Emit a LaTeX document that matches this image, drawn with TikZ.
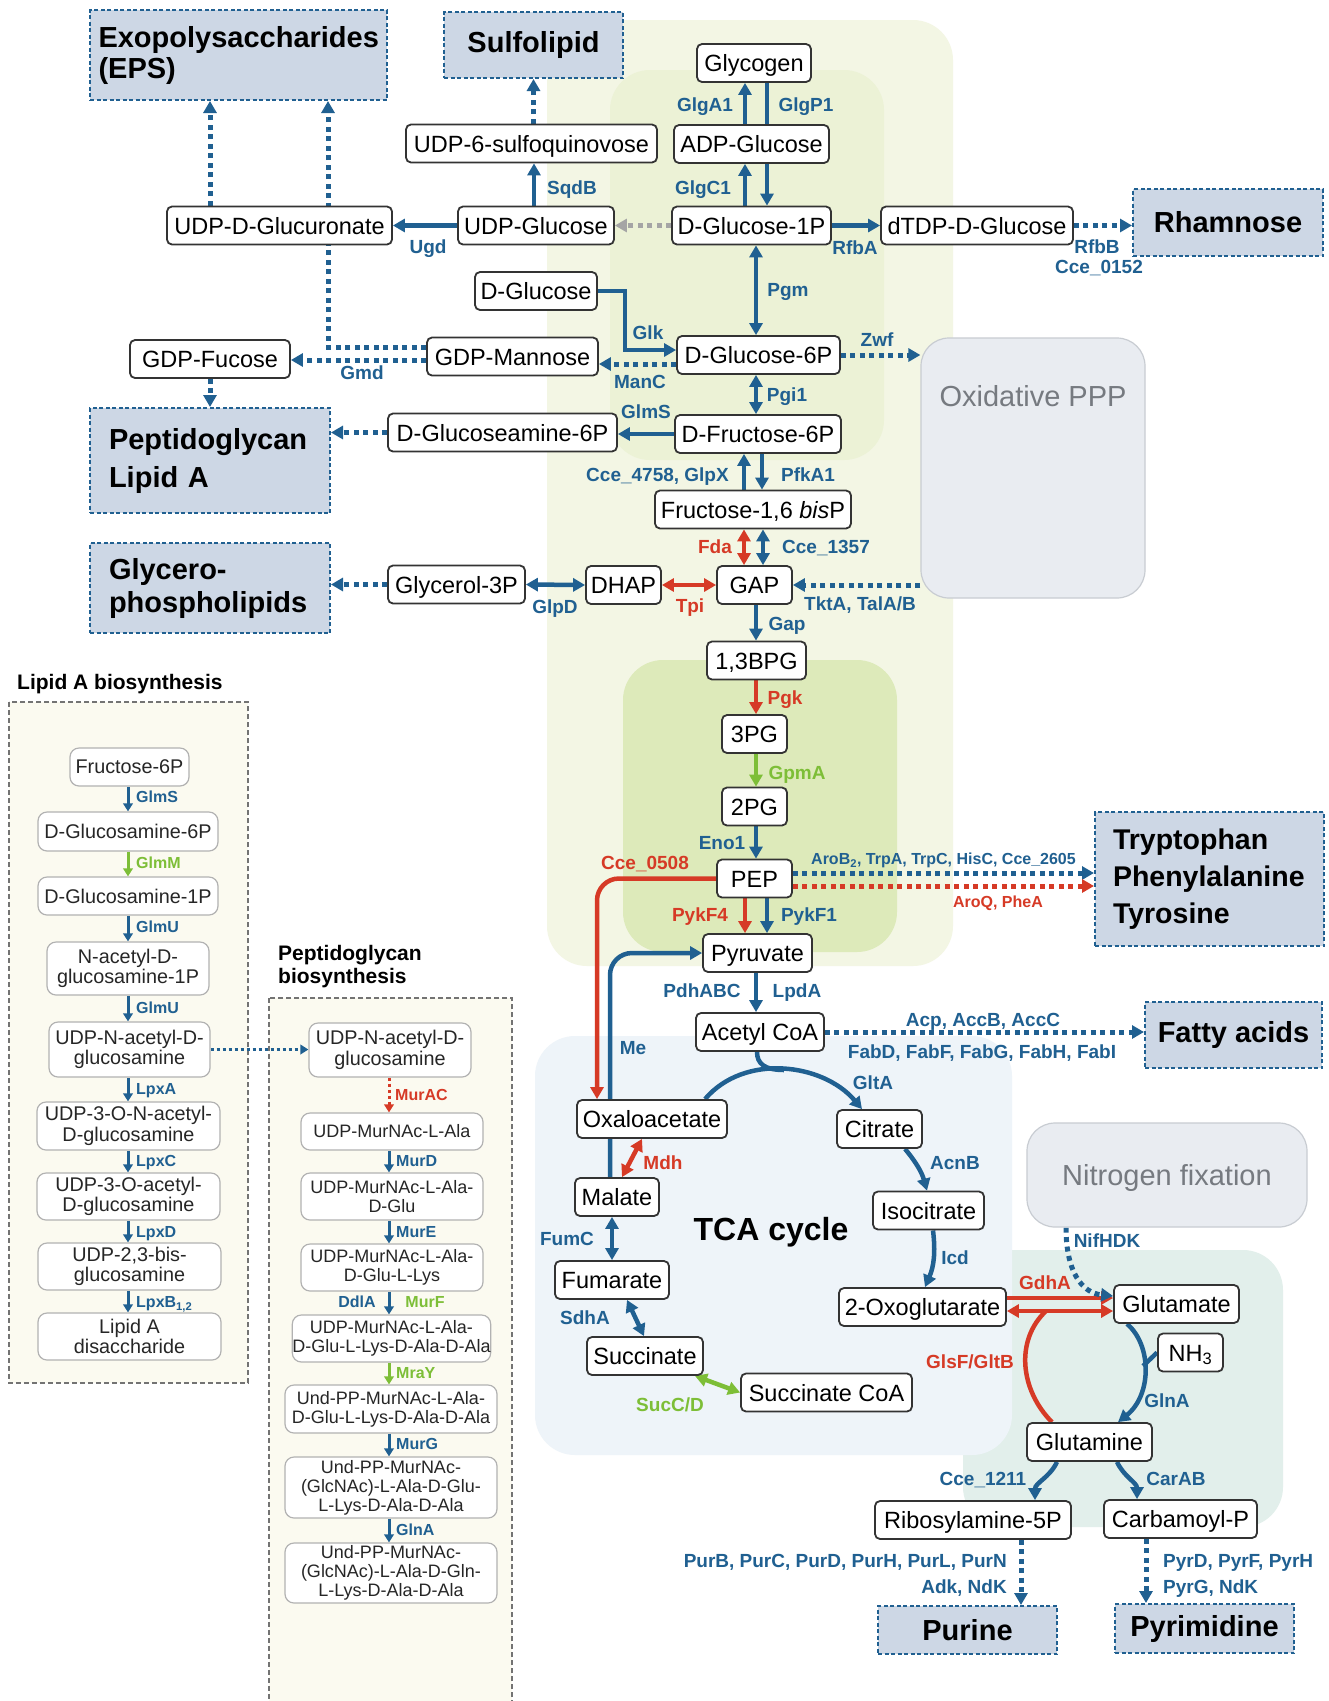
\documentclass[tikz,border=0pt]{standalone}
\usepackage{fontspec}
\setmainfont{Liberation Sans}
\usetikzlibrary{arrows.meta}
\hyphenpenalty=10000
\exhyphenpenalty=10000
\definecolor{cblue}{RGB}{32,96,145}
\definecolor{cred}{RGB}{214,58,38}
\definecolor{cgreen}{RGB}{125,190,55}
\definecolor{cgrey}{RGB}{165,165,165}
\definecolor{boxfill}{RGB}{205,215,229}
\definecolor{bgA}{RGB}{243,246,228}
\definecolor{bgB}{RGB}{236,242,214}
\definecolor{bgC}{RGB}{221,234,186}
\definecolor{bgTCA}{RGB}{238,244,249}
\definecolor{bgN}{RGB}{226,239,235}
\definecolor{pppfill}{RGB}{233,236,241}
\definecolor{pppdraw}{RGB}{200,204,210}
\definecolor{ppptext}{RGB}{118,122,128}
\definecolor{cream}{RGB}{251,250,240}
\pgfdeclarelayer{bg}
\pgfdeclarelayer{edges}
\pgfsetlayers{bg,edges,main}
\begin{document}
\begin{tikzpicture}[x=1pt,y=-1pt,
  met/.style={draw=black!80, line width=1.8pt, rounded corners=5pt, fill=white, inner sep=0pt, minimum height=38pt, text height=17pt, text depth=0pt, font=\fontsize{23.5}{27}\selectfont},
  hb/.style={draw=cblue, line width=2pt, dash pattern=on 4pt off 2.5pt, fill=boxfill, inner sep=0pt, font=\fontsize{29}{33}\selectfont\bfseries},
  grp/.style={draw=pppdraw, line width=1.2pt, fill=pppfill, rounded corners=28pt, inner sep=0pt, text=ppptext, font=\fontsize{29}{33}\selectfont},
  lm/.style={draw=black!30, line width=1.2pt, rounded corners=9pt, fill=white, inner sep=0pt, align=center, text=black!85, font=\fontsize{19.8}{20.5}\selectfont},
  pm/.style={lm, font=\fontsize{18}{19}\selectfont},
  lab/.style={inner sep=0pt, text height=13.6pt, text depth=0pt, text=cblue, font=\fontsize{19}{21}\selectfont\bfseries},
  labr/.style={lab, text=cred},
  labg/.style={lab, text=cgreen},
  slab/.style={inner sep=0pt, text height=11.5pt, text depth=0pt, text=cblue, font=\fontsize{16}{18}\selectfont\bfseries},
  arr/.style={line width=4.5pt, draw=cblue, -{Triangle[length=12pt,width=13pt]}},
  darr/.style={line width=4.5pt, draw=cblue, {Triangle[length=12pt,width=13pt]}-{Triangle[length=12pt,width=13pt]}},
  pline/.style={line width=4.5pt, draw=cblue},
  dotarr/.style={line width=5pt, draw=cblue, dash pattern=on 5pt off 4.5pt, -{Triangle[length=12pt,width=13pt]}},
  sarr/.style={line width=3pt, draw=cblue, -{Triangle[length=8pt,width=9.5pt]}},
  sdot/.style={line width=3pt, draw=cblue, dash pattern=on 3pt off 3pt, -{Triangle[length=8pt,width=9.5pt]}},
]
\useasboundingbox (0,0) rectangle (1329,1701);
% ---------------- backgrounds
\begin{pgfonlayer}{bg}
\fill[white] (0,0) rectangle (1329,1701);
\fill[bgA, rounded corners=40pt] (547,20) rectangle (953,966);
\fill[bgB, rounded corners=40pt] (610,70) rectangle (884,460);
\fill[bgC, rounded corners=40pt] (623,660) rectangle (897,952);
\fill[bgN, rounded corners=40pt] (963,1250) rectangle (1283,1527);
\fill[bgTCA, rounded corners=40pt] (535,1036) rectangle (1012,1455);
\filldraw[fill=cream, draw=black!55, line width=1.5pt, dash pattern=on 5pt off 3pt] (9,702) rectangle (248,1383);
\filldraw[fill=cream, draw=black!55, line width=1.5pt, dash pattern=on 5pt off 3pt] (269,998) rectangle (512,1730);
\end{pgfonlayer}

% ---------------- helper coordinates
\coordinate (x210) at (210,0);
\coordinate (p347) at (328,347);
\coordinate (y360) at (0,360);
\coordinate (y364) at (0,364);
\coordinate (x534) at (534,0);
\coordinate (v1) at (745,0);
\coordinate (v2) at (767,0);
\coordinate (v3) at (756,0);
\coordinate (f1) at (744,0);
\coordinate (f2) at (762,0);
\coordinate (f3) at (763,0);
\coordinate (k1) at (625,350);
\coordinate (y873) at (0,873);
\coordinate (y886) at (0,886);
\coordinate (m1) at (597,879);
\coordinate (m2) at (610,953);
\coordinate (g1) at (705,0);
\coordinate (g2) at (862,0);
\coordinate (g3) at (757,0);
\coordinate (gj) at (784,1070);
\coordinate (c1) at (905,0);
\coordinate (c2) at (927,0);
\coordinate (i1) at (933,0);
\coordinate (i2) at (925,0);
\coordinate (y1298) at (0,1298);
\coordinate (y1311) at (0,1311);
\coordinate (y1296) at (0,1296);
\coordinate (gs) at (1046,1311);
\coordinate (nj) at (1143,1366);
\coordinate (x1052) at (1052,0);
\coordinate (x1127) at (1127,0);
\coordinate (x1118) at (1118,0);
\coordinate (x1066) at (1066,0);
\coordinate (x1057) at (1057,0);
\coordinate (x1035) at (1035,0);
\coordinate (x1117) at (1117,0);
\coordinate (x1137) at (1137,0);
\coordinate (x1021) at (1021,0);
\coordinate (x1146) at (1146,0);
\coordinate (x622) at (622,0);
\coordinate (x642) at (642,0);
\coordinate (x612) at (612,0);
\coordinate (x627) at (627,0);
\coordinate (x644) at (644,0);
\coordinate (x695) at (695,0);
\coordinate (lx) at (128,0);
\coordinate (px) at (389,0);

% ---------------- headline boxes
\node[hb, align=left, text width=280pt, inner xsep=8.5pt, minimum height=90pt, font=\fontsize{29}{31}\selectfont\bfseries] (eps) at (238.5,55) {Exopolysaccharides\\(EPS)};
\node[hb, minimum width=179pt, minimum height=66pt] (sulf) at (533.5,45) {Sulfolipid};
\node[hb, minimum width=190pt, minimum height=67pt] (rham) at (1228,222.5) {Rhamnose};
\node[hb, align=left, text width=202pt, inner xsep=19pt, minimum height=105pt, font=\fontsize{29}{38}\selectfont\bfseries] (pepbox) at (210,460.5) {Peptidoglycan\\Lipid A};
\node[hb, align=left, text width=202pt, inner xsep=19pt, minimum height=90pt, font=\fontsize{29}{33}\selectfont\bfseries] (glycbox) at (210,588) {Glycero-\\phospholipids};
\node[hb, align=left, text width=193pt, inner xsep=18pt, minimum height=134pt, font=\fontsize{28.5}{37}\selectfont\bfseries] (arom) at (1209.5,879) {Tryptophan\\Phenylalanine\\Tyrosine};
\node[hb, minimum width=177pt, minimum height=66pt] (fatty) at (1233.5,1035) {Fatty acids};
\node[hb, minimum width=179pt, minimum height=48pt] (purine) at (967.5,1630) {Purine};
\node[hb, minimum width=179pt, minimum height=49pt] (pyrim) at (1204.5,1628.5) {Pyrimidine};

% ---------------- grey group boxes
\node[grp, minimum width=224pt, minimum height=260pt] (oxppp) at (1033,468) {};
\node[inner sep=0pt, text=ppptext, text height=21pt, text depth=0pt, font=\fontsize{29}{33}\selectfont] (oxpppT) at (1033,396) {Oxidative PPP};
\node[grp, minimum width=280pt, minimum height=104pt, text height=21pt, text depth=0pt] (nfix) at (1167,1175) {Nitrogen fixation};

% ---------------- metabolites
\node[met, minimum width=114pt] (glycogen) at (754,63) {Glycogen};
\node[met, minimum width=155pt] (adpg) at (751.5,144) {ADP-Glucose};
\node[met, minimum width=251pt] (udp6sq) at (531.5,143.5) {UDP-6-sulfoquinovose};
\node[met, minimum width=159pt] (g1p) at (751.5,225.5) {D-Glucose-1P};
\node[met, minimum width=156pt] (udpg) at (536,225.5) {UDP-Glucose};
\node[met, minimum width=225pt] (udpgluc) at (279.5,225.5) {UDP-D-Glucuronate};
\node[met, minimum width=192pt] (dtdp) at (977,225.5) {dTDP-D-Glucose};
\node[met, minimum width=122pt] (dglc) at (536,291) {D-Glucose};
\node[met, minimum width=160pt] (gdpfuc) at (210,359) {GDP-Fucose};
\node[met, minimum width=171pt] (gdpman) at (512.5,356.5) {GDP-Mannose};
\node[met, minimum width=163pt] (g6p) at (758.5,355) {D-Glucose-6P};
\node[met, minimum width=166pt] (f6p) at (758,434) {D-Fructose-6P};
\node[met, minimum width=229pt] (gln6p) at (502.5,432.5) {D-Glucoseamine-6P};
\node[met, minimum width=196pt] (fbp) at (753,509.5) {Fructose-1,6 \textit{bis}P};
\node[met, minimum width=137pt] (g3p) at (456.5,584.5) {Glycerol-3P};
\node[met, minimum width=75pt] (dhap) at (623.5,585) {DHAP};
\node[met, minimum width=75pt] (gap) at (754.5,585) {GAP};
\node[met, minimum width=99pt] (bpg) at (756.5,660.5) {1,3BPG};
\node[met, minimum width=65pt] (pg3) at (754.5,734) {3PG};
\node[met, minimum width=65pt] (pg2) at (754.5,806.5) {2PG};
\node[met, minimum width=75pt] (pep) at (754.5,878.5) {PEP};
\node[met, minimum width=109pt] (pyr) at (757.5,953) {Pyruvate};
\node[met, minimum width=128pt] (acoa) at (760,1032) {Acetyl CoA};
\node[met, minimum width=150pt] (oaa) at (652,1119) {Oxaloacetate};
\node[met, minimum width=85pt] (cit) at (879.5,1129) {Citrate};
\node[met, minimum width=84pt] (mal) at (617,1197) {Malate};
\node[met, minimum width=111pt] (icit) at (928.5,1210.5) {Isocitrate};
\node[met, minimum width=114pt] (fum) at (612,1280) {Fumarate};
\node[met, minimum width=167pt] (akg) at (922.5,1307) {2-Oxoglutarate};
\node[met, minimum width=116pt] (suc) at (645,1356) {Succinate};
\node[met, minimum width=171pt] (succoa) at (826.5,1392.5) {Succinate CoA};
\node[met, minimum width=125pt] (glu) at (1176.5,1304) {Glutamate};
\node[met, minimum width=65pt] (nh3) at (1190.5,1352.5) {NH\textsubscript{3}};
\node[met, minimum width=125pt] (gln) at (1089.5,1442) {Glutamine};
\node[met, minimum width=196pt] (r5p) at (973,1520) {Ribosylamine-5P};
\node[met, minimum width=153pt] (carp) at (1180.5,1519) {Carbamoyl-P};
\node[inner sep=0pt, text height=23pt, text depth=0pt, font=\fontsize{32}{36}\selectfont\bfseries] (tca) at (771,1229) {TCA cycle};

% ---------------- Lipid A biosynthesis
\node[anchor=west, inner sep=0pt, font=\fontsize{21}{23}\selectfont\bfseries] (tlipid) at (17,684) {Lipid A biosynthesis};
\node[lm, minimum width=119pt, minimum height=38pt] (lf6p) at (129.5,767) {Fructose-6P};
\node[lm, minimum width=180pt, minimum height=39pt] (lgn6p) at (128,831.5) {D-Glucosamine-6P};
\node[lm, minimum width=180pt, minimum height=38pt] (lgn1p) at (128,896) {D-Glucosamine-1P};
\node[lm, minimum width=162pt, minimum height=53pt] (lnag1p) at (128,968.5) {N-acetyl-D-\\glucosamine-1P};
\node[lm, minimum width=161pt, minimum height=55pt] (ludpnag) at (129.5,1049.5) {UDP-N-acetyl-D-\\glucosamine};
\node[lm, minimum width=183pt, minimum height=48pt] (lud3on) at (128.5,1126) {UDP-3-O-N-acetyl-\\D-glucosamine};
\node[lm, minimum width=183pt, minimum height=47pt] (lud3o) at (128.5,1196.5) {UDP-3-O-acetyl-\\D-glucosamine};
\node[lm, minimum width=183pt, minimum height=47pt] (lud23) at (129.5,1266.5) {UDP-2,3-bis-\\glucosamine};
\node[lm, minimum width=183pt, minimum height=47pt] (llad) at (129.5,1336.5) {Lipid A\\disaccharide};

% ---------------- Peptidoglycan biosynthesis
\node[anchor=west, align=left, inner sep=0pt, font=\fontsize{21}{23}\selectfont\bfseries] (tpept) at (278,967) {Peptidoglycan\\biosynthesis};
\node[lm, minimum width=162pt, minimum height=54pt] (pudpnag) at (390,1050) {UDP-N-acetyl-D-\\glucosamine};
\node[pm, minimum width=182pt, minimum height=37pt] (pmur1) at (392,1131.5) {UDP-MurNAc-L-Ala};
\node[pm, minimum width=182pt, minimum height=47pt] (pmur2) at (392,1196.5) {UDP-MurNAc-L-Ala-\\D-Glu};
\node[pm, minimum width=182pt, minimum height=47pt] (pmur3) at (392,1267.5) {UDP-MurNAc-L-Ala-\\D-Glu-L-Lys};
\node[pm, minimum width=193pt, minimum height=47pt] (pmur4) at (391.5,1338.5) {UDP-MurNAc-L-Ala-\\D-Glu-L-Lys-D-Ala-D-Ala};
\node[pm, minimum width=212pt, minimum height=48pt] (pund1) at (391,1409) {Und-PP-MurNAc-L-Ala-\\D-Glu-L-Lys-D-Ala-D-Ala};
\node[pm, minimum width=212pt, minimum height=61pt] (pund2) at (391,1487.5) {Und-PP-MurNAc-\\(GlcNAc)-L-Ala-D-Glu-\\L-Lys-D-Ala-D-Ala};
\node[pm, minimum width=212pt, minimum height=60pt] (pund3) at (391,1573) {Und-PP-MurNAc-\\(GlcNAc)-L-Ala-D-Gln-\\L-Lys-D-Ala-D-Ala};

% ---------------- enzyme labels
\node[lab] (lUgd) at (428,247) {Ugd};
\node[lab] (lSqdB) at (572,188) {SqdB};
\node[lab] (lGlgA1) at (705,105) {GlgA1};
\node[lab] (lGlgP1) at (806,105) {GlgP1};
\node[lab] (lGlgC1) at (703,188) {GlgC1};
\node[lab] (lRfbA) at (855,248) {RfbA};
\node[lab] (lRfbB) at (1097,247) {RfbB};
\node[lab] (lCce0152) at (1099,267) {Cce\_0152};
\node[lab] (lPgm) at (788,290) {Pgm};
\node[lab] (lGlk) at (648,333) {Glk};
\node[lab] (lManC) at (640,382) {ManC};
\node[lab] (lGmd) at (362,373) {Gmd};
\node[lab] (lZwf) at (877,340) {Zwf};
\node[lab] (lPgi1) at (787,395) {Pgi1};
\node[lab] (lGlmS) at (646,412) {GlmS};
\node[lab, anchor=east] (lCce4758) at (729,475) {Cce\_4758, GlpX};
\node[lab] (lPfkA1) at (808,475) {PfkA1};
\node[labr] (lFda) at (715,547) {Fda};
\node[lab] (lCce1357) at (826,547) {Cce\_1357};
\node[labr] (lTpi) at (690,606) {Tpi};
\node[lab] (lGlpD) at (555,607) {GlpD};
\node[lab] (lTkt) at (860,604) {TktA, TalA/B};
\node[lab] (lGap) at (787,624) {Gap};
\node[labr] (lPgk) at (785,698) {Pgk};
\node[labg] (lGpmA) at (797,773) {GpmA};
\node[lab] (lEno1) at (722,843) {Eno1};
\node[labr] (lCce0508) at (645,863) {Cce\_0508};
\node[slab, anchor=east] (lAroB) at (1076,859) {AroB\textsubscript{2}, TrpA, TrpC, HisC, Cce\_2605};
\node[slab, text=cred] (lAroQ) at (998,902) {AroQ, PheA};
\node[labr] (lPykF4) at (700,915) {PykF4};
\node[lab] (lPykF1) at (809,915) {PykF1};
\node[lab] (lPdh) at (702,991) {PdhABC};
\node[lab] (lLpdA) at (797,991) {LpdA};
\node[lab] (lAcp) at (983,1020) {Acp, AccB, AccC};
\node[lab] (lFab) at (982,1052) {FabD, FabF, FabG, FabH, FabI};
\node[lab] (lMe) at (633,1048) {Me};
\node[lab] (lGltA) at (873,1083) {GltA};
\node[labr] (lMdh) at (663,1163) {Mdh};
\node[lab] (lFumC) at (567,1239) {FumC};
\node[lab] (lSdhA) at (585,1318) {SdhA};
\node[labg] (lSucCD) at (670,1405) {SucC/D};
\node[lab] (lAcnB) at (955,1163) {AcnB};
\node[lab] (lIcd) at (955,1258) {Icd};
\node[lab] (lNif) at (1107,1241) {NifHDK};
\node[labr] (lGdhA) at (1045,1283) {GdhA};
\node[labr] (lGlsF) at (970,1362) {GlsF/GltB};
\node[lab] (lGlnA) at (1167,1401) {GlnA};
\node[lab] (lCce1211) at (983,1479) {Cce\_1211};
\node[lab] (lCarAB) at (1176,1479) {CarAB};
\node[lab, anchor=east] (lPur1) at (1007,1561) {PurB, PurC, PurD, PurH, PurL, PurN};
\node[lab, anchor=east] (lPur2) at (1007,1587) {Adk, NdK};
\node[lab, anchor=west] (lPyr1) at (1163,1561) {PyrD, PyrF, PyrH};
\node[lab, anchor=west] (lPyr2) at (1163,1587) {PyrG, NdK};
% lipid / peptidoglycan labels
\node[slab, anchor=west] (sGlmS) at (136,797) {GlmS};
\node[slab, anchor=west, text=cgreen] (sGlmM) at (136,863) {GlmM};
\node[slab, anchor=west] (sGlmU1) at (136,927) {GlmU};
\node[slab, anchor=west] (sGlmU2) at (136,1008) {GlmU};
\node[slab, anchor=west] (sLpxA) at (136,1089) {LpxA};
\node[slab, anchor=west] (sLpxC) at (136,1161) {LpxC};
\node[slab, anchor=west] (sLpxD) at (136,1232) {LpxD};
\node[slab, anchor=west] (sLpxB) at (136,1302) {LpxB\textsubscript{1,2}};
\node[slab, anchor=west, text=cred] (sMurAC) at (395,1095) {MurAC};
\node[slab, anchor=west] (sMurD) at (396,1161) {MurD};
\node[slab, anchor=west] (sMurE) at (396,1232) {MurE};
\node[slab] (sDdlA) at (357,1302) {DdlA};
\node[slab, text=cgreen] (sMurF) at (425,1302) {MurF};
\node[slab, anchor=west, text=cgreen] (sMraY) at (396,1373) {MraY};
\node[slab, anchor=west] (sMurG) at (396,1444) {MurG};
\node[slab, anchor=west] (sGlnA) at (396,1530) {GlnA};

% ---------------- connectors
\begin{pgfonlayer}{edges}
% top / sugar branch
\draw[dotarr] (udp6sq.north -| sulf.south) -- (sulf.south);
\draw[dotarr] (udpgluc.north -| x210) -- (eps.south -| x210);
\draw[dotarr] (gdpman.west |- p347) -- (p347) -- (eps.south -| p347);
\draw[dotarr] (gdpman.west |- y360) -- (gdpfuc.east |- y360);
\draw[dotarr] (gdpfuc.south) -- (pepbox.north);
\draw[arr] (udpg.west) -- (udpgluc.east);
\draw[arr] (udpg.north -| x534) -- (udp6sq.south -| x534);
\draw[dotarr, draw=cgrey] (g1p.west) -- (udpg.east);
\draw[arr] (adpg.north -| v1) -- (glycogen.south -| v1);
\draw[pline] (glycogen.south -| v2) -- (adpg.north -| v2);
\draw[arr] (g1p.north -| v1) -- (adpg.south -| v1);
\draw[arr] (adpg.south -| v2) -- (g1p.north -| v2);
\draw[arr] (g1p.east) -- (dtdp.west);
\draw[dotarr] (dtdp.east) -- (rham.west |- dtdp.east);
\draw[darr] (g1p.south -| v3) -- (g6p.north -| v3);
\draw[arr] (dglc.east) -| (k1) -- (g6p.west |- k1);
\draw[dotarr] (g6p.west |- y364) -- (gdpman.east |- y364);
\draw[dotarr] (g6p.east) -- (oxppp.west |- g6p.east);
\draw[darr] (g6p.south -| v3) -- (f6p.north -| v3);
\draw[arr] (f6p.west) -- (gln6p.east |- f6p.west);
\draw[dotarr] (gln6p.west) -- (pepbox.east |- gln6p.west);
\draw[arr] (fbp.north -| f1) -- (f6p.south -| f1);
\draw[arr] (f6p.south -| f2) -- (fbp.north -| f2);
\draw[darr, draw=cred] (fbp.south -| f1) -- (gap.north -| f1);
\draw[darr] (fbp.south -| f3) -- (gap.north -| f3);
\draw[darr, draw=cred] (dhap.east) -- (gap.west);
\draw[darr] (g3p.east) -- (dhap.west);
\draw[dotarr] (g3p.west) -- (glycbox.east |- g3p.west);
\draw[dotarr] (oxppp.west |- gap.east) -- (gap.east);
% lower glycolysis
\draw[arr] (gap.south -| v3) -- (bpg.north -| v3);
\draw[arr, draw=cred] (bpg.south -| v3) -- (pg3.north -| v3);
\draw[arr, draw=cgreen] (pg3.south -| v3) -- (pg2.north -| v3);
\draw[arr] (pg2.south -| v3) -- (pep.north -| v3);
\draw[arr, draw=cred] (pep.south -| v1) -- (pyr.north -| v1);
\draw[arr] (pep.south -| v2) -- (pyr.north -| v2);
\draw[dotarr] (pep.east |- y873) -- (arom.west |- y873);
\draw[dotarr, draw=cred] (pep.east |- y886) -- (arom.west |- y886);
\draw[arr, draw=cred, rounded corners=22pt] (pep.west) -| (oaa.north -| m1);
\draw[arr, rounded corners=22pt] (mal.north -| m2) |- (pyr.west);
\draw[arr] (pyr.south -| v3) -- (acoa.north -| v3);
\draw[dotarr] (acoa.east) -- (fatty.west |- acoa.east);
% TCA cycle
\draw[arr] (oaa.north -| g1) .. controls (744,1053) and (823,1063) .. (cit.north -| g2);
\draw[pline] (acoa.south -| g3) .. controls (757,1064) and (765,1070) .. (gj);
\draw[arr] (cit.south -| c1) to[bend left=12] (icit.north -| c2);
\draw[arr] (icit.south -| i1) to[bend left=15] (akg.north -| i2);
\draw[darr, draw=cred] (mal.north -| x622) -- (oaa.south -| x642);
\draw[darr] (mal.south -| x612) -- (fum.north -| x612);
\draw[darr] (fum.south -| x627) -- (suc.north -| x644);
\draw[darr, draw=cgreen] (suc.south -| x695) -- (succoa.west);
% nitrogen
\draw[arr, draw=cred] (akg.east |- y1298) -- (glu.west |- y1298);
\draw[darr, draw=cred] (akg.east |- y1311) -- (glu.west |- y1311);
\draw[pline, draw=cred] (gln.north -| x1052) .. controls (1020,1390) and (1015,1340) .. (gs);
\draw[arr] (glu.south -| x1127) .. controls (1152,1345) and (1152,1395) .. (gln.north -| x1118);
\draw[pline] (nh3.west) -- (nj);
\draw[dotarr] (nfix.south -| x1066) .. controls (1066,1272) and (1082,1293) .. (glu.west |- y1296);
\draw[arr] (gln.south -| x1057) to[out=-115,in=90] (r5p.north -| x1035);
\draw[arr] (gln.south -| x1117) to[out=-65,in=90] (carp.north -| x1137);
\draw[dotarr] (r5p.south -| x1021) -- (purine.north -| x1021);
\draw[dotarr] (carp.south -| x1146) -- (pyrim.north -| x1146);
% lipid A
\draw[sarr] (lf6p.south -| lx) -- (lgn6p.north -| lx);
\draw[sarr, draw=cgreen] (lgn6p.south -| lx) -- (lgn1p.north -| lx);
\draw[sarr] (lgn1p.south -| lx) -- (lnag1p.north -| lx);
\draw[sarr] (lnag1p.south -| lx) -- (ludpnag.north -| lx);
\draw[sarr] (ludpnag.south -| lx) -- (lud3on.north -| lx);
\draw[sarr] (lud3on.south -| lx) -- (lud3o.north -| lx);
\draw[sarr] (lud3o.south -| lx) -- (lud23.north -| lx);
\draw[sarr] (lud23.south -| lx) -- (llad.north -| lx);
\draw[sdot] (ludpnag.east) -- (pudpnag.west |- ludpnag.east);
% peptidoglycan
\draw[sdot, draw=cred] (pudpnag.south -| px) -- (pmur1.north -| px);
\draw[sarr] (pmur1.south -| px) -- (pmur2.north -| px);
\draw[sarr] (pmur2.south -| px) -- (pmur3.north -| px);
\draw[sarr] (pmur3.south -| px) -- (pmur4.north -| px);
\draw[sarr, draw=cgreen] (pmur4.south -| px) -- (pund1.north -| px);
\draw[sarr] (pund1.south -| px) -- (pund2.north -| px);
\draw[sarr] (pund2.south -| px) -- (pund3.north -| px);
\end{pgfonlayer}
\end{tikzpicture}
\end{document}
